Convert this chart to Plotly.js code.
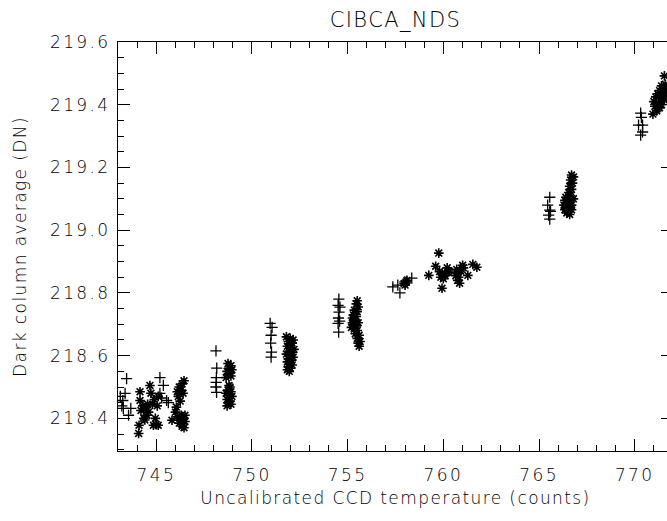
<!DOCTYPE html>
<html>
<head>
<meta charset="utf-8">
<script src="https://cdn.plot.ly/plotly-3.0.1.min.js"></script>
<style>
html,body{margin:0;padding:0;overflow:hidden;background:#fff;}
#chart{width:690px;height:521px;}
#chart .xtick text, #chart .ytick text{letter-spacing:2.4px;}
#chart .xtitle, #chart .ytitle, #chart .gtitle{letter-spacing:1.4px;}
</style>
</head>
<body>
<div id="chart"></div>
<script>
// '+' series: uncalibrated CCD temperature (counts) vs dark column average (DN)
const plusX = [743.45,743.37,743.25,743.28,743.67,743.55,743.12,743.2,745.19,745.37,745.19,745.28,745.54,745.63,
  748.12,748.16,748.14,748.13,748.12,748.15,
  750.95,751.05,751.0,750.98,751.02,751.0,
  754.54,754.6,754.5,754.55,754.52,754.5,754.58,754.53,
  757.36,757.62,757.73,757.99,758.35,
  765.56,765.45,765.56,765.5,765.56,765.6,
  770.31,770.2,770.41,770.41,770.31,770.35];
const plusY = [218.527,218.48,218.457,218.432,218.432,218.41,218.47,218.44,218.53,218.505,218.48,218.465,218.457,218.45,
  218.615,218.56,218.53,218.515,218.5,218.483,
  218.703,218.69,218.665,218.64,218.611,218.595,
  218.78,218.755,218.76,218.739,218.72,218.703,218.71,218.675,
  218.819,218.825,218.8,218.835,218.847,
  219.105,219.08,219.064,219.048,219.035,219.06,
  219.373,219.335,219.335,219.313,219.303,219.36];

// '*' series
const starX = [744.15,744.67,744.72,744.15,744.3,744.45,744.6,744.2,744.5,744.35,744.8,744.9,744.1,744.08,744.85,745.0,745.1,744.95,745.1,745.05,744.4,744.55,
  745.82,746.05,746.1,746.2,746.35,746.45,746.3,746.15,746.4,746.25,746.0,746.3,746.4,746.5,746.2,746.35,746.45,746.25,746.1,746.5,
  748.75,748.9,748.8,748.95,748.7,748.85,748.75,748.9,748.65,748.8,748.85,748.75,748.9,748.65,748.8,748.95,748.7,748.85,748.75,748.9,748.7,
  751.8,752.0,752.15,751.9,752.1,751.85,752.05,752.2,751.95,752.1,751.8,752.0,752.15,751.9,752.05,751.85,752.0,752.1,751.9,752.0,751.85,751.95,
  755.5,755.45,755.55,755.35,755.5,755.3,755.45,755.25,755.4,755.55,755.3,755.45,755.2,755.35,755.5,755.4,755.6,755.5,755.65,755.55,755.6,755.35,755.25,
  757.95,758.05,758.1,758.0,
  759.24,759.6,759.76,759.87,759.95,759.93,760.24,760.3,760.1,760.0,760.7,760.76,760.8,760.75,760.85,760.9,761.01,761.05,761.28,761.54,761.75,760.65,759.8,760.2,
  766.7,766.8,766.65,766.75,766.6,766.7,766.55,766.65,766.4,766.5,766.35,766.6,766.45,766.7,766.3,766.5,766.4,766.6,766.35,766.5,766.7,766.45,766.6,766.8,
  771.55,771.6,771.4,771.5,771.3,771.6,771.2,771.45,771.1,771.35,771.55,771.0,771.25,771.4,771.05,771.3,771.15,770.95,771.5,771.65];
const starY = [218.485,218.505,218.48,218.457,218.44,218.43,218.42,218.425,218.41,218.4,218.445,218.46,218.378,218.352,218.378,218.38,218.378,218.4,218.47,218.44,218.395,218.445,
  218.394,218.436,218.485,218.5,218.51,218.52,218.49,218.47,218.48,218.455,218.42,218.41,218.4,218.39,218.385,218.375,218.37,218.4,218.405,218.41,
  218.575,218.568,218.56,218.555,218.55,218.545,218.54,218.535,218.53,218.505,218.5,218.49,218.485,218.48,218.475,218.47,218.46,218.455,218.45,218.445,218.44,
  218.66,218.655,218.65,218.645,218.64,218.63,218.625,218.62,218.615,218.61,218.605,218.6,218.595,218.59,218.585,218.58,218.575,218.57,218.565,218.56,218.555,218.55,
  218.775,218.765,218.755,218.745,218.74,218.73,218.725,218.72,218.71,218.705,218.7,218.695,218.69,218.685,218.68,218.67,218.665,218.655,218.645,218.64,218.63,218.715,218.705,
  218.83,218.835,218.84,218.825,
  218.856,218.885,218.927,218.85,218.86,218.815,218.866,218.87,218.855,218.845,218.875,218.863,218.85,218.84,218.831,218.87,218.888,218.88,218.856,218.891,218.882,218.855,218.868,218.88,
  219.176,219.17,219.16,219.15,219.14,219.13,219.12,219.11,219.105,219.1,219.095,219.09,219.085,219.08,219.08,219.075,219.07,219.07,219.065,219.06,219.065,219.055,219.05,219.1,
  219.492,219.465,219.46,219.45,219.445,219.44,219.435,219.43,219.425,219.42,219.415,219.41,219.405,219.4,219.395,219.39,219.38,219.37,219.425,219.45];

const titleText = 'CIBCA_NDS';
const xTitle = 'Uncalibrated CCD temperature (counts)';
const yTitle = 'Dark column average (DN)';

const FONT = '"DejaVu Sans", sans-serif';
const TXT = '#000';
const traces = [
  {x: plusX, y: plusY, type: 'scatter', mode: 'markers', name: '+',
   marker: {symbol: 'cross-thin-open', size: 8, color: '#000', line: {color: '#000', width: 1.3}}},
  {x: starX, y: starY, type: 'scatter', mode: 'markers', name: '*',
   marker: {symbol: 'asterisk-open', size: 8, color: '#000', line: {color: '#000', width: 1.6}}}
];

const axisCommon = {
  showline: true, linecolor: '#000', linewidth: 1, mirror: 'allticks',
  ticks: 'inside', ticklen: 12, tickcolor: '#000', tickwidth: 1,
  showgrid: false, zeroline: false,
  tickfont: {family: FONT, size: 17, color: TXT, weight: 200}
};

const layout = {
  width: 690, height: 521,
  margin: {l: 118, r: 17, t: 42, b: 70},
  paper_bgcolor: '#fff', plot_bgcolor: '#fff',
  showlegend: false,
  title: {text: titleText, font: {family: FONT, size: 21, color: TXT, weight: 200},
          x: 0.5, xref: 'paper', y: 1 - 20/521, yref: 'container', yanchor: 'middle'},
  xaxis: Object.assign({}, axisCommon, {
    range: [743, 772], tick0: 745, dtick: 5, ticklabelstandoff: 9,
    minor: {dtick: 1, ticklen: 6, ticks: 'inside', tickcolor: '#000', showgrid: false},
    title: {text: xTitle, font: {family: FONT, size: 17, color: TXT, weight: 200}, standoff: 7}
  }),
  yaxis: Object.assign({}, axisCommon, {
    range: [218.296, 219.6], tick0: 218.4, dtick: 0.2, tickformat: '.1f', ticklabelstandoff: 3,
    minor: {dtick: 0.05, ticklen: 6, ticks: 'inside', tickcolor: '#000', showgrid: false},
    title: {text: yTitle, font: {family: FONT, size: 17, color: TXT, weight: 200}, standoff: 30}
  })
};

Plotly.newPlot('chart', traces, layout, {displayModeBar: false, staticPlot: true});
</script>
</body>
</html>
